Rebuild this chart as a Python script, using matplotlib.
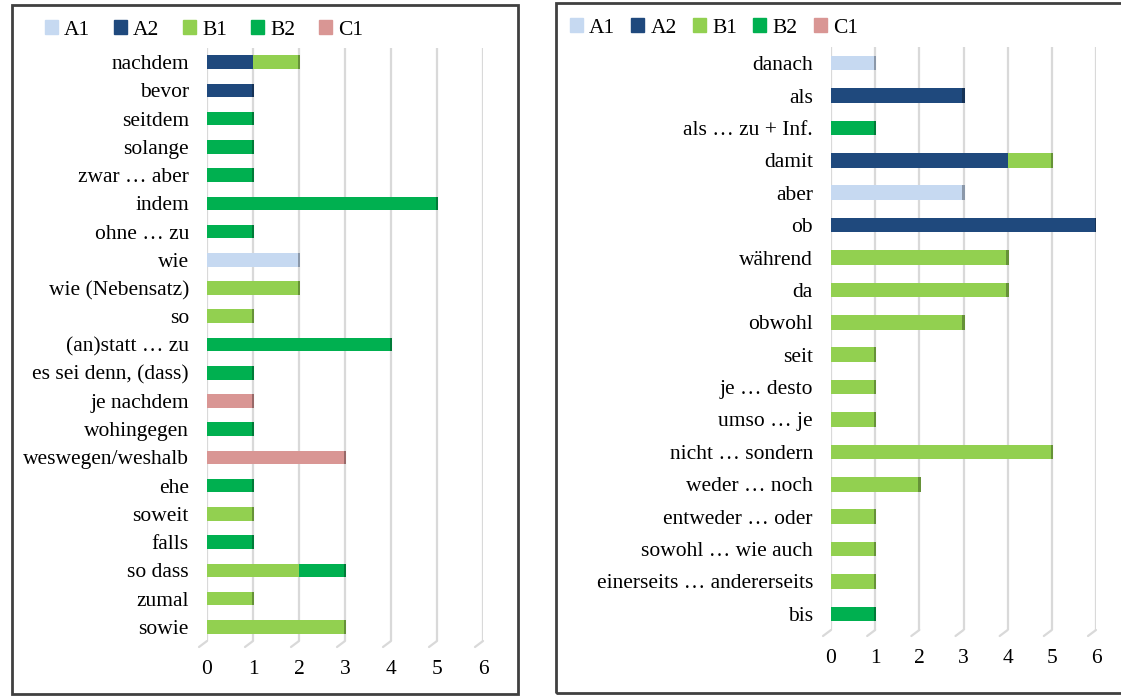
import matplotlib.pyplot as plt
import matplotlib.colors as mcolors
import matplotlib.transforms as mtransforms
from matplotlib.patches import Rectangle, Patch
import numpy as np

plt.rcParams['font.family'] = ['Liberation Serif', 'DejaVu Serif']

levels = ["A1", "A2", "B1", "B2", "C1"]
level_colors = ["#C6D9F1", "#1F497D", "#92D050", "#00B050", "#D99694"]

# left panel
left_cats = ["nachdem", "bevor", "seitdem", "solange", "zwar … aber", "indem",
             "ohne … zu", "wie", "wie (Nebensatz)", "so", "(an)statt … zu",
             "es sei denn, (dass)", "je nachdem", "wohingegen", "weswegen/weshalb",
             "ehe", "soweit", "falls", "so dass", "zumal", "sowie"]
left_A1 = [0, 0, 0, 0, 0, 0, 0, 2, 0, 0, 0, 0, 0, 0, 0, 0, 0, 0, 0, 0, 0]
left_A2 = [1, 1, 0, 0, 0, 0, 0, 0, 0, 0, 0, 0, 0, 0, 0, 0, 0, 0, 0, 0, 0]
left_B1 = [1, 0, 0, 0, 0, 0, 0, 0, 2, 1, 0, 0, 0, 0, 0, 0, 1, 0, 2, 1, 3]
left_B2 = [0, 0, 1, 1, 1, 5, 1, 0, 0, 0, 4, 1, 0, 1, 0, 1, 0, 1, 1, 0, 0]
left_C1 = [0, 0, 0, 0, 0, 0, 0, 0, 0, 0, 0, 0, 1, 0, 3, 0, 0, 0, 0, 0, 0]

# right panel
right_cats = ["danach", "als", "als … zu + Inf.", "damit", "aber", "ob", "während",
              "da", "obwohl", "seit", "je … desto", "umso … je", "nicht … sondern",
              "weder … noch", "entweder … oder", "sowohl … wie auch",
              "einerseits … andererseits", "bis"]
right_A1 = [1, 0, 0, 0, 3, 0, 0, 0, 0, 0, 0, 0, 0, 0, 0, 0, 0, 0]
right_A2 = [0, 3, 0, 4, 0, 6, 0, 0, 0, 0, 0, 0, 0, 0, 0, 0, 0, 0]
right_B1 = [0, 0, 0, 1, 0, 0, 4, 4, 3, 1, 1, 1, 5, 2, 1, 1, 1, 0]
right_B2 = [0, 0, 1, 0, 0, 0, 0, 0, 0, 0, 0, 0, 0, 0, 0, 0, 0, 1]
right_C1 = [0] * 18

W, H = 1121, 698
fig = plt.figure(figsize=(W / 100, H / 100), dpi=100)


def px_axes(l, t, r, b):
    return fig.add_axes([l / W, 1 - b / H, (r - l) / W, (b - t) / H])


def darker(c, f=0.7):
    r, g, b = mcolors.to_rgb(c)
    return (r * f, g * f, b * f)


def panel(ax, cats, series, bar_h):
    y = np.arange(len(cats))
    left = np.zeros(len(cats))
    last_col = [None] * len(cats)
    for vals, col in zip(series, level_colors):
        vals = np.array(vals, dtype=float)
        ax.barh(y, vals, left=left, height=bar_h, color=col, zorder=3)
        for i, v in enumerate(vals):
            if v > 0:
                last_col[i] = col
        left += vals
    # darker end face for the 3D look
    for i, tot in enumerate(left):
        if tot > 0:
            ax.barh(y[i], 0.06, left=tot - 0.03, height=bar_h,
                    color=darker(last_col[i]), zorder=4)
    ax.set_yticks(y)
    ax.set_yticklabels(cats, fontsize=15.5)
    ax.set_ylim(len(cats) - 0.5, -0.5)
    ax.set_xlim(0, 6)
    ax.set_xticks(range(7))
    ax.tick_params(axis='x', labelsize=15.5, length=0, pad=14)
    ax.tick_params(axis='y', length=0, pad=13)
    ax.grid(axis='x', color='#D9D9D9', lw=1.6, zorder=0)
    # slanted floor strokes under each gridline (3D floor)
    base = mtransforms.blended_transform_factory(ax.transData, ax.transAxes)
    for xv in range(7):
        ax.plot([xv, xv], [0, 0], transform=base, alpha=0)
        off = mtransforms.offset_copy(base, fig=fig, x=-8, y=-6, units='dots')
        ax.annotate("", xy=(xv, 0), xycoords=off, xytext=(xv, 0), textcoords=base,
                    arrowprops=dict(arrowstyle='-', color='#D9D9D9', lw=1.6,
                                    shrinkA=0, shrinkB=0), annotation_clip=False)
    for s in ax.spines.values():
        s.set_visible(False)
    handles = [Patch(color=c, label=l) for l, c in zip(levels, level_colors)]
    return handles


ax1 = px_axes(207, 48, 483, 641)
h = panel(ax1, left_cats, [left_A1, left_A2, left_B1, left_B2, left_C1], 0.48)
fig.legend(handles=h, loc='center left', bbox_to_anchor=(36 / W, 1 - 30 / H),
           ncol=5, frameon=False, fontsize=15.5, handlelength=0.6, handleheight=0.6,
           handletextpad=0.3, columnspacing=1.1, borderaxespad=0)

ax2 = px_axes(831, 47, 1096, 630)
h = panel(ax2, right_cats, [right_A1, right_A2, right_B1, right_B2, right_C1], 0.45)
fig.legend(handles=h, loc='center left', bbox_to_anchor=(561 / W, 1 - 28 / H),
           ncol=5, frameon=False, fontsize=15.5, handlelength=0.6, handleheight=0.6,
           handletextpad=0.3, columnspacing=0.75, borderaxespad=0)

# panel frames
for (l, t, r, b) in [(12, 5, 518, 694), (556, 3, 1124, 693)]:
    fig.patches.append(Rectangle((l / W, 1 - b / H), (r - l) / W, (b - t) / H,
                                 transform=fig.transFigure, fill=False,
                                 edgecolor='#404040', lw=2))

fig.savefig("out.png", dpi=100)
